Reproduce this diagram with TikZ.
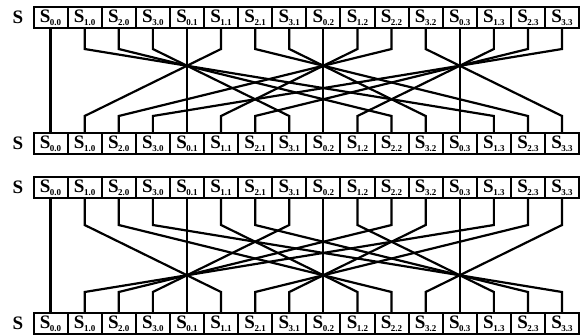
\documentclass[tikz,border=0pt]{standalone}
\usepackage{fontspec}
\setmainfont{Liberation Serif}
\begin{document}
\begin{tikzpicture}[x=1pt,y=-1pt,
  cell/.style={draw, line width=2pt, minimum width=34.1pt, minimum height=21pt, inner sep=0pt, font=\bfseries\fontsize{19}{19}\selectfont},
  wire/.style={line width=2.2pt},
  rowlab/.style={font=\bfseries\fontsize{19}{19}\selectfont}]
\useasboundingbox (0,0) rectangle (581,335);
\foreach \yc/\nm in {17.5/t, 143.5/b, 187.5/u, 323.5/v} {
  \node[rowlab] (L\nm) at (18,\yc) {S};
  \foreach \p in {0,...,15} {
    \pgfmathtruncatemacro\ii{mod(\p,4)}
    \pgfmathtruncatemacro\jj{div(\p,4)}
    \node[cell] (\nm\p) at ({33.5+34.1*(\p+0.5)},\yc) {S\kern-0.5pt\raisebox{-3pt}{\fontsize{9}{9}\selectfont\ii.\jj}};
  }
}
\foreach \p in {0,...,15} {
  \pgfmathtruncatemacro\ii{mod(\p,4)}
  \pgfmathtruncatemacro\jj{div(\p,4)}
  \pgfmathtruncatemacro\qa{4*mod(\jj-\ii+4,4)+\ii}
  \pgfmathtruncatemacro\qb{4*mod(\jj+\ii,4)+\ii}
  \draw[wire] (t\p.south) -- ++(0pt,-20pt) -- ([yshift=16pt]b\qa.north) -- (b\qa.north);
  \draw[wire] (u\p.south) -- ++(0pt,-26pt) -- ([yshift=20pt]v\qb.north) -- (v\qb.north);
}
\end{tikzpicture}
\end{document}
